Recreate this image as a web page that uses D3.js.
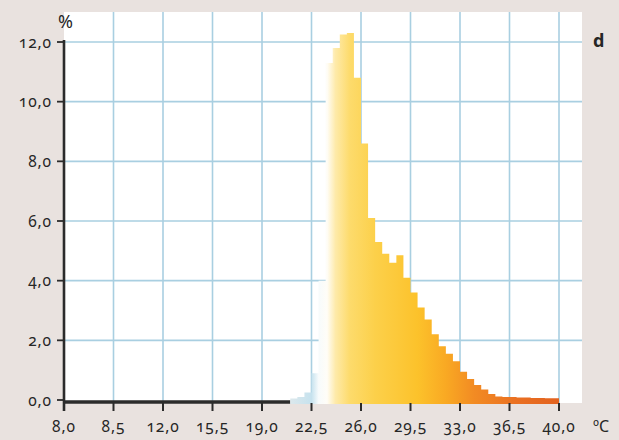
<!DOCTYPE html>
<html>
<head>
<meta charset="utf-8">
<style>
body { margin: 0; background: #e9e2df; }
svg text { font-family: "Noto Sans", Lato, sans-serif; font-variant-numeric: oldstyle-nums; fill: #262626; }
</style>
</head>
<body>
<script src="https://cdnjs.cloudflare.com/ajax/libs/d3/7.8.5/d3.min.js"></script>
<script>
// x axis ticks in degrees C, labels exactly as printed on the chart
var xTicks = [5, 8.5, 12, 15.5, 19, 22.5, 26, 29.5, 33, 36.5, 40];
var xLabels = ["8,0", "8,5", "12,0", "15,5", "19,0", "22,5", "26,0", "29,5", "33,0", "36,5", "40,0"];
// y axis ticks in %
var yTicks = [0, 2, 4, 6, 8, 10, 12];
var yLabels = ["0,0", "2,0", "4,0", "6,0", "8,0", "10,0", "12,0"];
// histogram: lower edge of each 0.5 degree bin and its share (%)
var binStart = [21.0, 21.5, 22.0, 22.5, 23.0, 23.5, 24.0, 24.5, 25.0, 25.5, 26.0, 26.5,
                27.0, 27.5, 28.0, 28.5, 29.0, 29.5, 30.0, 30.5, 31.0, 31.5, 32.0, 32.5,
                33.0, 33.5, 34.0, 34.5, 35.0, 35.5, 36.0, 36.5, 37.0, 37.5, 38.0, 38.5,
                39.0, 39.5];
var binShare = [0.05, 0.1, 0.25, 0.9, 4.0, 11.3, 11.8, 12.25, 12.3, 10.8, 8.6, 6.1,
                5.3, 4.9, 4.6, 4.85, 4.1, 3.6, 3.1, 2.7, 2.2, 1.8, 1.55, 1.3,
                0.95, 0.7, 0.5, 0.35, 0.2, 0.12, 0.1, 0.1, 0.08, 0.08, 0.07, 0.07,
                0.06, 0.06];
// colour ramp along the temperature axis
var rampTemp = [21.0, 22.5, 23.0, 23.6, 24.2, 25.2, 27.0, 30.0, 32.0, 34.0, 37.0, 40.0];
var rampColor = ["#dce8ec", "#c6e2ee", "#f7fbfc", "#fffdf7", "#feeaa9", "#fddb6c",
                 "#fcd04a", "#fcc22b", "#f9a923", "#f28b23", "#ea7022", "#e2621f"];

var width = 619, height = 440;
var plotLeft = 64, plotRight = 582, plotTop = 12, plotBottom = 403;

var x = d3.scaleLinear().domain([5, 40]).range([64, 559]);
var y = d3.scaleLinear().domain([0, 12]).range([400, 42]);

var svg = d3.select("body").append("svg")
    .attr("width", width)
    .attr("height", height);

// white plot area
svg.append("rect")
    .attr("x", plotLeft).attr("y", plotTop)
    .attr("width", plotRight - plotLeft).attr("height", plotBottom - plotTop)
    .attr("fill", "#ffffff");

// grid
svg.selectAll("line.vgrid")
    .data(xTicks.slice(1))
    .enter().append("line")
    .attr("class", "vgrid")
    .attr("x1", function (d) { return x(d); })
    .attr("x2", function (d) { return x(d); })
    .attr("y1", plotTop).attr("y2", plotBottom)
    .attr("stroke", "#a9cfe1").attr("stroke-width", 1.6);

svg.selectAll("line.hgrid")
    .data(yTicks.slice(1))
    .enter().append("line")
    .attr("class", "hgrid")
    .attr("x1", plotLeft).attr("x2", plotRight)
    .attr("y1", function (d) { return y(d); })
    .attr("y2", function (d) { return y(d); })
    .attr("stroke", "#a9cfe1").attr("stroke-width", 1.6);

// gradient for the histogram
var grad = svg.append("defs").append("linearGradient")
    .attr("id", "tempGrad")
    .attr("gradientUnits", "userSpaceOnUse")
    .attr("x1", x(rampTemp[0])).attr("x2", x(rampTemp[rampTemp.length - 1]))
    .attr("y1", 0).attr("y2", 0);
grad.selectAll("stop")
    .data(rampTemp)
    .enter().append("stop")
    .attr("offset", function (d) { return (d - rampTemp[0]) / (rampTemp[rampTemp.length - 1] - rampTemp[0]); })
    .attr("stop-color", function (d, i) { return rampColor[i]; });

// dark baseline left of the histogram
svg.append("line")
    .attr("x1", plotLeft).attr("x2", x(21))
    .attr("y1", 402).attr("y2", 402)
    .attr("stroke", "#2b2b2b").attr("stroke-width", 3.5);

// histogram as a stepped area
var steps = binStart.map(function (d, i) { return { t: d, v: binShare[i] }; });
steps.push({ t: 40, v: binShare[binShare.length - 1] });
var area = d3.area()
    .curve(d3.curveStepAfter)
    .x(function (d) { return x(d.t); })
    .y0(404)
    .y1(function (d) { return y(d.v); });
svg.append("path")
    .datum(steps)
    .attr("d", area)
    .attr("fill", "url(#tempGrad)");

// y axis line and ticks
svg.append("line")
    .attr("x1", plotLeft).attr("x2", plotLeft)
    .attr("y1", 40).attr("y2", 411)
    .attr("stroke", "#2b2b2b").attr("stroke-width", 2.6);
svg.selectAll("line.ytick")
    .data(yTicks)
    .enter().append("line")
    .attr("class", "ytick")
    .attr("x1", 57).attr("x2", plotLeft)
    .attr("y1", function (d) { return y(d); })
    .attr("y2", function (d) { return y(d); })
    .attr("stroke", "#2b2b2b").attr("stroke-width", 1.8);
svg.selectAll("text.ylab")
    .data(yTicks)
    .enter().append("text")
    .attr("class", "ylab")
    .attr("x", 52)
    .attr("y", function (d) { return y(d); })
    .attr("dy", "0.36em")
    .attr("text-anchor", "end")
    .attr("font-size", 15.5)
    .attr("letter-spacing", 0.9)
    .text(function (d, i) { return yLabels[i]; });

// x ticks and labels
svg.selectAll("line.xtick")
    .data(xTicks.slice(1))
    .enter().append("line")
    .attr("class", "xtick")
    .attr("x1", function (d) { return x(d); })
    .attr("x2", function (d) { return x(d); })
    .attr("y1", 403).attr("y2", 411)
    .attr("stroke", "#2b2b2b").attr("stroke-width", 2);
svg.selectAll("text.xlab")
    .data(xTicks)
    .enter().append("text")
    .attr("class", "xlab")
    .attr("x", function (d) { return x(d); })
    .attr("y", 432)
    .attr("text-anchor", "middle")
    .attr("font-size", 15.5)
    .attr("letter-spacing", 0.9)
    .text(function (d, i) { return xLabels[i]; });

// unit labels and panel letter
svg.append("text").attr("x", 58).attr("y", 28).attr("font-size", 18).text("%");
svg.append("text").attr("x", 593).attr("y", 432).attr("font-size", 16).text("ºC");
svg.append("text").attr("x", 593).attr("y", 47).attr("font-size", 18)
    .attr("font-weight", "bold").text("d");
</script>
</body>
</html>
